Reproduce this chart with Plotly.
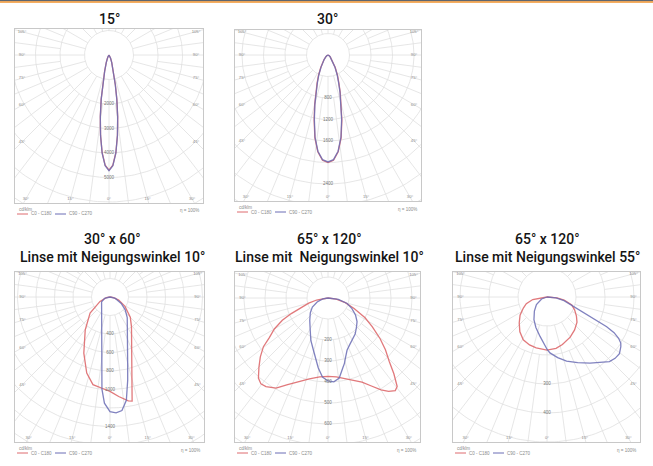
import numpy as np
import plotly.graph_objects as go

W, H = 653, 466

# ---------------- data ----------------
title_line1 = ["15°", "30°", "30° x 60°", "65° x 120°", "65° x 120°"]
title_line2 = ["", "", "Linse mit Neigungswinkel 10°", "Linse mit  Neigungswinkel 10°",
               "Linse mit Neigungswinkel 55°"]

# panel 1 : 15°
p1_gamma = [-90, -70, -50, -40, -30, -25, -20, -15, -12, -10, -8, -6, -4, -2, 0,
            2, 4, 6, 8, 10, 12, 15, 20, 25, 30, 40, 50, 70, 90]
p1_red = [0, 0, 10, 25, 80, 160, 330, 700, 1250, 1850, 2550, 3300, 4000, 4500, 4700,
          4500, 4000, 3300, 2550, 1850, 1250, 700, 330, 160, 80, 25, 10, 0, 0]
p1_blue = [0, 0, 10, 25, 75, 150, 320, 680, 1230, 1830, 2540, 3300, 4020, 4520, 4720,
           4520, 4020, 3300, 2540, 1830, 1230, 680, 320, 150, 75, 25, 10, 0, 0]

# panel 2 : 30°
p2_gamma = [-90, -80, -70, -60, -50, -40, -30, -25, -21, -18, -15, -12, -9, -6, -3, 0,
            3, 6, 9, 12, 15, 18, 21, 25, 30, 40, 50, 60, 70, 80, 90]
p2_red = [0, 3, 10, 25, 55, 120, 270, 420, 570, 740, 960, 1240, 1560, 1810, 1960, 2000,
          1960, 1810, 1560, 1240, 960, 740, 570, 420, 270, 120, 55, 25, 10, 3, 0]
p2_blue = [0, 3, 10, 22, 50, 112, 255, 400, 550, 720, 940, 1220, 1545, 1800, 1950, 1990,
           1950, 1800, 1545, 1220, 940, 720, 550, 400, 255, 112, 50, 22, 10, 3, 0]

# panel 3 : 30° x 60°, tilt 10°
p3_red_gamma = [-90, -80, -66, -51, -37, -25, -17, -11, -5, 0, 5, 10, 12, 15, 20, 24,
                30, 36, 45, 58, 70, 80, 90]
p3_red = [0, 40, 118, 277, 445, 670, 860, 965, 990, 1020, 1080, 1140, 1150, 920, 700, 585,
          475, 395, 310, 191, 100, 40, 0]
p3_blue_gamma = [-90, -75, -60, -45, -30, -20, -12, -8, -5, -3, 0, 3, 6, 9, 12, 15, 20,
                 25, 30, 40, 50, 60, 75, 90]
p3_blue = [0, 60, 105, 130, 180, 263, 430, 640, 1000, 1150, 1240, 1255, 1235, 1130, 920,
           738, 560, 452, 382, 290, 215, 140, 60, 0]

# panel 4 : 65° x 120°, tilt 10°
p4_red_gamma = [-90, -80, -75, -70, -67, -64, -60, -56, -53, -49, -45, -41, -38, -35, -30,
                -25, -20, -13, -6, 0, 6, 12, 18, 22, 26, 30, 33, 36, 38, 41, 44, 48, 52,
                57, 62, 68, 75, 82, 90]
p4_red = [0, 55, 95, 140, 190, 242, 295, 337, 385, 427, 465, 505, 519, 515, 495,
          455, 425, 395, 378, 373, 378, 392, 415, 432, 465, 505, 530, 545, 535, 478, 420,
          368, 315, 252, 200, 134, 85, 40, 0]
p4_blue_gamma = [-90, -80, -70, -60, -50, -39, -30, -22, -16, -11, -8, -4, 0, 4, 8, 12,
                 14, 17, 20, 25, 30, 37, 44, 51, 58, 66, 74, 82, 90]
p4_blue = [0, 25, 55, 86, 110, 138, 170, 218, 255, 303, 335, 377, 395, 400, 385, 340,
           322, 290, 265, 245, 232, 215, 195, 178, 155, 125, 95, 50, 0]

# panel 5 : 65° x 120°, tilt 55°
p5_red_gamma = [-90, -80, -72, -65, -56, -47, -38, -29, -20, -12, 0, 10, 18, 30, 40, 50,
                57, 65, 72, 80, 85, 90]
p5_red = [0, 50, 75, 90, 112, 131, 152, 169, 176, 179, 183, 180, 172, 160, 148, 135,
          121, 105, 90, 60, 35, 0]
p5_blue_gamma = [-90, -70, -54, -42, -30, -20, -10, 0, 3, 10, 17, 25, 33, 40, 44, 48, 52,
                 56, 58, 60, 62, 63.5, 65, 66.5, 69, 72, 78, 84, 90]
p5_blue = [0, 20, 45, 65, 90, 112, 138, 180, 193, 212, 231, 250, 272, 295, 310, 316, 317,
           307, 300, 285, 262, 230, 180, 140, 110, 93, 60, 31, 0]

# ring steps (cd/klm) and which rings carry a value label
ring_step = [1000, 400, 200, 100, 100]
ring_count = [8, 9, 10, 9, 7]
ring_labelled = [[2, 3, 4, 5], [2, 3, 4, 6], [2, 3, 4, 5, 7], [2, 3, 4, 5, 6], [3, 4]]
side_angles = [105, 90, 75, 60, 45]
bottom_angles = [-30, -15, 0, 15, 30]
legend_names = ["C0 - C180", "C90 - C270"]
efficiency = "η = 100%"
unit = "cd/klm"

curves = [
    ((p1_gamma, p1_red), (p1_gamma, p1_blue)),
    ((p2_gamma, p2_red), (p2_gamma, p2_blue)),
    ((p3_red_gamma, p3_red), (p3_blue_gamma, p3_blue)),
    ((p4_red_gamma, p4_red), (p4_blue_gamma, p4_blue)),
    ((p5_red_gamma, p5_red), (p5_blue_gamma, p5_blue)),
]

# ---------------- layout (pixels) ----------------
# frame left, top, right, bottom, centre x, centre y ; pixels per ring step
panels = [
    (15, 29, 203, 203, 109, 55, 24.5),
    (235, 30, 421, 201, 328, 55, 21.5),
    (15, 272, 204, 442, 110, 297, 18.5),
    (235, 272, 420, 442, 328, 298, 21.0),
    (453, 272, 640, 442, 547, 297, 29.0),
]
title_x = [109, 328, 112, 329, 547]
title_y1 = [19, 19, 239, 239, 239]
title_y2 = 257

RED = "#de6b6e"
BLUE = "#6b6db5"
GRID = "#e0e0e0"
FRAME = "#c8c8c8"
TXT = "#8a8a8a"
TITLE_FONT = "Roboto, Liberation Sans, Arial, sans-serif"


def px_x(v):
    return v / W


def px_y(v):
    return 1 - v / H


def to_xy(gamma, inten, scale):
    g = np.radians(np.asarray(gamma, float))
    r = np.asarray(inten, float) * scale
    return r * np.sin(g), -r * np.cos(g)


fig = go.Figure()
layout_axes = {}
shapes = []
annotations = []

for i, (L, T, R, B, cx, cy, spacing) in enumerate(panels):
    n = i + 1
    xa = "x" if n == 1 else f"x{n}"
    ya = "y" if n == 1 else f"y{n}"
    scale = spacing / ring_step[i]  # px per cd

    # grid
    gx, gy = [], []
    th = np.linspace(0, 2 * np.pi, 241)
    for k in range(1, ring_count[i] + 1):
        rr = k * spacing
        gx += list(rr * np.cos(th)) + [None]
        gy += list(rr * np.sin(th)) + [None]
    rmax = 400
    for a in np.arange(0, 360, 7.5):
        r0 = spacing if a % 15 == 0 else 2 * spacing
        ar = np.radians(a)
        gx += [r0 * np.sin(ar), rmax * np.sin(ar), None]
        gy += [-r0 * np.cos(ar), -rmax * np.cos(ar), None]
    fig.add_trace(go.Scatter(x=gx, y=gy, mode="lines", line=dict(color=GRID, width=0.8),
                             hoverinfo="skip", showlegend=False, xaxis=xa, yaxis=ya))

    # curves
    (rg, rv), (bg, bv) = curves[i]
    x, y = to_xy(rg, rv, scale)
    fig.add_trace(go.Scatter(x=x, y=y, mode="lines", line=dict(color=RED, width=1.3),
                             opacity=0.9, name=legend_names[0], showlegend=False,
                             xaxis=xa, yaxis=ya))
    x, y = to_xy(bg, bv, scale)
    fig.add_trace(go.Scatter(x=x, y=y, mode="lines", line=dict(color=BLUE, width=1.3),
                             opacity=0.85, name=legend_names[1], showlegend=False,
                             xaxis=xa, yaxis=ya))

    # ring labels on the 0° line
    ks = ring_labelled[i]
    fig.add_trace(go.Scatter(x=[0] * len(ks), y=[-k * spacing for k in ks], mode="text",
                             text=[str(k * ring_step[i]) for k in ks],
                             textfont=dict(size=4.5, color="#777777", family="Arial"),
                             hoverinfo="skip", showlegend=False, cliponaxis=False,
                             xaxis=xa, yaxis=ya))

    # angle labels along frame
    half = (R - L) / 2
    inset = half - 7
    tx, ty, tt = [], [], []
    for a in side_angles:
        yy = -inset / np.tan(np.radians(a))
        for s in (-1, 1):
            tx.append(s * inset)
            ty.append(yy)
            tt.append(f"{a}°")
    dn = (B - cy) - 4
    for a in bottom_angles:
        tx.append(dn * np.tan(np.radians(a)))
        ty.append(-dn)
        tt.append(f"{abs(a)}°")
    fig.add_trace(go.Scatter(x=tx, y=ty, mode="text", text=tt,
                             textfont=dict(size=4.2, color=TXT, family="Arial"),
                             hoverinfo="skip", showlegend=False, cliponaxis=False,
                             xaxis=xa, yaxis=ya))

    ax_common = dict(showgrid=False, zeroline=False, showticklabels=False, ticks="",
                     showline=True, mirror=True, linecolor=FRAME, linewidth=1,
                     fixedrange=True)
    layout_axes["xaxis" if n == 1 else f"xaxis{n}"] = dict(
        domain=[px_x(L), px_x(R)], range=[L - cx, R - cx], anchor=ya, **ax_common)
    layout_axes["yaxis" if n == 1 else f"yaxis{n}"] = dict(
        domain=[px_y(B), px_y(T)], range=[cy - B, cy - T], anchor=xa, **ax_common)

    # legend row below frame
    small = dict(size=4.5, color=TXT, family="Arial")
    annotations.append(dict(x=px_x(L + 2), y=px_y(B + 6), xref="paper", yref="paper",
                            text=unit, showarrow=False, xanchor="left", yanchor="middle",
                            font=small))
    annotations.append(dict(x=px_x(R - 2), y=px_y(B + 8), xref="paper", yref="paper",
                            text=efficiency, showarrow=False, xanchor="right",
                            yanchor="middle", font=small))
    for j, (col, x0, x1, tx0) in enumerate([(RED, L + 2, L + 13, L + 14),
                                            (BLUE, L + 40, L + 51, L + 52)]):
        shapes.append(dict(type="line", xref="paper", yref="paper",
                           x0=px_x(x0), x1=px_x(x1), y0=px_y(B + 11), y1=px_y(B + 11),
                           line=dict(color=col, width=1)))
        annotations.append(dict(x=px_x(tx0), y=px_y(B + 11), xref="paper", yref="paper",
                                text=legend_names[j], showarrow=False, xanchor="left",
                                yanchor="middle", font=small))

    # titles
    tfont = dict(size=14, color="#141414", family=TITLE_FONT, weight=500)
    annotations.append(dict(x=px_x(title_x[i]), y=px_y(title_y1[i]), xref="paper",
                            yref="paper", text=title_line1[i], showarrow=False,
                            xanchor="center", yanchor="middle", font=tfont))
    if title_line2[i]:
        annotations.append(dict(x=px_x(title_x[i]), y=px_y(title_y2), xref="paper",
                                yref="paper", text=title_line2[i], showarrow=False,
                                xanchor="center", yanchor="middle", font=tfont))

# header stripe
shapes.append(dict(type="rect", xref="paper", yref="paper", x0=0, x1=1,
                   y0=px_y(1.3), y1=1, line=dict(width=0), fillcolor="#5f6670"))
shapes.append(dict(type="rect", xref="paper", yref="paper", x0=0, x1=1,
                   y0=px_y(2.8), y1=px_y(1.3), line=dict(width=0), fillcolor="#f0932e"))

fig.update_layout(width=W, height=H, margin=dict(l=0, r=0, t=0, b=0),
                  paper_bgcolor="white", plot_bgcolor="white", showlegend=False,
                  shapes=shapes, annotations=annotations, **layout_axes)

fig.write_html("out.html", config={"displayModeBar": False, "staticPlot": True},
               post_script="document.body.style.margin='0';document.body.style.padding='0';")
